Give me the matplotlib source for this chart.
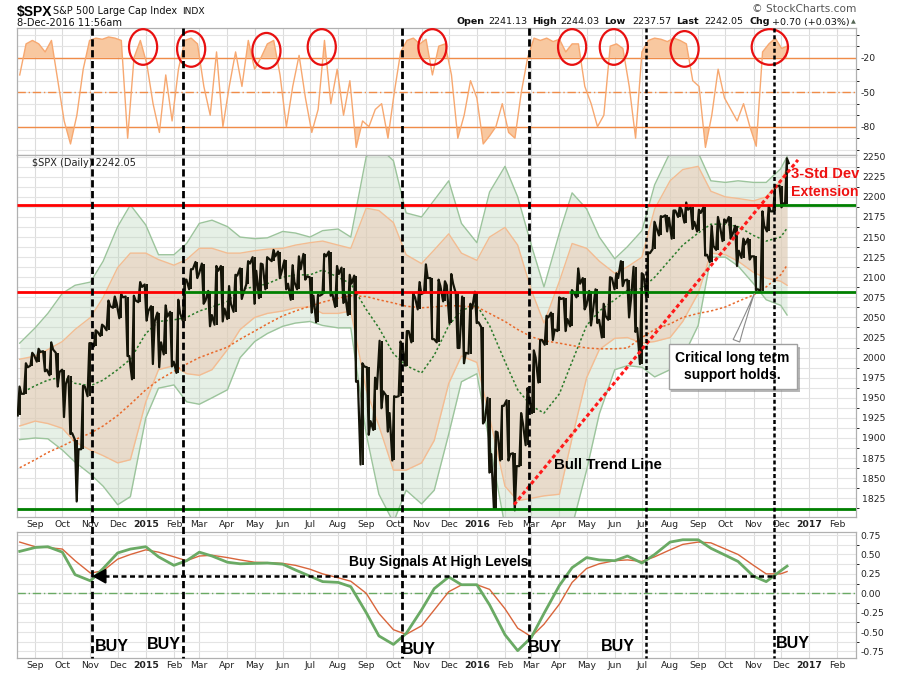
import matplotlib
matplotlib.use('Agg')
import matplotlib.pyplot as plt
import matplotlib.dates as mdates
import matplotlib.transforms as mtransforms
import matplotlib.patheffects as pe
from matplotlib.lines import Line2D
from matplotlib.patches import Ellipse
import numpy as np
import pandas as pd

# weekly S&P 500 bars (Friday dates, last bar is 8-Dec-2016)
week_dates = pd.date_range('2014-08-15', '2016-12-02', freq='W-FRI').append(pd.DatetimeIndex(['2016-12-08']))

close = [1955, 1988, 2003, 2007, 1985, 2010, 1982, 1967, 1906, 1886, 1964, 2018, 2032, 2039, 2064, 2068, 2075, 2002, 2071, 2088,
         2058, 2045, 2019, 2051, 1995, 2055, 2097, 2110, 2105, 2071, 2053, 2108, 2061, 2067, 2102, 2081, 2117, 2108, 2116, 2123,
         2126, 2107, 2092, 2094, 2110, 2101, 2077, 2077, 2126, 2079, 2104, 2078, 2092, 1971, 1989, 1921, 1961, 1958, 1931, 1951,
         2014, 2033, 2075, 2079, 2099, 2023, 2089, 2090, 2092, 2012, 2006, 2061, 2044,
         1922, 1880, 1907, 1940, 1880, 1865, 1918, 1948, 2000, 2022, 2050, 2035, 2073, 2048, 2081, 2092, 2065, 2057, 2047, 2052,
         2099, 2099, 2096, 2071, 2037, 2103, 2130, 2162, 2175, 2174, 2183, 2184, 2184, 2169, 2180, 2128, 2139, 2165, 2168, 2153,
         2133, 2141, 2126, 2085, 2164, 2182, 2213, 2192, 2242]
high = [1964, 1993, 2006, 2011, 2008, 2019, 2006, 1985, 1977, 1898, 1965, 2018, 2034, 2041, 2071, 2076, 2079, 2076, 2077, 2094,
        2091, 2064, 2056, 2065, 2057, 2072, 2097, 2110, 2119, 2117, 2083, 2114, 2114, 2089, 2103, 2111, 2120, 2125, 2117, 2125,
        2134, 2132, 2121, 2115, 2126, 2129, 2100, 2078, 2129, 2132, 2114, 2112, 2103, 2102, 1993, 1988, 1975, 2021, 1953, 1952,
        2020, 2033, 2080, 2094, 2116, 2099, 2097, 2095, 2104, 2080, 2076, 2067, 2082,
        2038, 1950, 1908, 1940, 1947, 1881, 1931, 1962, 2009, 2022, 2052, 2056, 2075, 2074, 2084, 2111, 2099, 2083, 2085, 2067,
        2100, 2105, 2120, 2097, 2113, 2105, 2131, 2169, 2176, 2177, 2183, 2188, 2193, 2187, 2184, 2187, 2164, 2175, 2172, 2175,
        2164, 2148, 2148, 2126, 2182, 2189, 2214, 2214, 2248]
low = [1928, 1955, 1990, 1995, 1983, 1978, 1964, 1926, 1905, 1821, 1886, 1952, 2014, 2027, 2034, 2062, 2049, 2002, 1973, 2069,
       2046, 1992, 1988, 2004, 1989, 1981, 2046, 2085, 2099, 2067, 2039, 2041, 2045, 2048, 2057, 2073, 2091, 2067, 2074, 2085,
       2120, 2099, 2085, 2072, 2085, 2097, 2056, 2044, 2079, 2077, 2063, 2068, 2053, 1970, 1867, 1904, 1910, 1937, 1908, 1872,
       1952, 1990, 2019, 2060, 2081, 2023, 2019, 2070, 2043, 2012, 1993, 2005, 2043,
       1918, 1857, 1812, 1872, 1872, 1810, 1865, 1891, 1931, 1969, 2016, 2022, 2033, 2033, 2039, 2075, 2060, 2040, 2043, 2025,
       2047, 2085, 2089, 2050, 2032, 1992, 2074, 2135, 2152, 2157, 2148, 2175, 2168, 2160, 2157, 2127, 2119, 2134, 2145, 2148,
       2114, 2124, 2122, 2084, 2083, 2157, 2182, 2187, 2191]

# Williams %R (top panel), same weekly dates
willr = [-35, -8, -5, -8, -15, -5, -40, -75, -95, -70, -30, -5, -3, -4, -2, -3, -5, -90, -20, -5,
         -25, -60, -85, -35, -75, -30, -5, -3, -8, -45, -70, -15, -80, -45, -15, -45, -5, -30, -20, -8,
         -5, -35, -80, -45, -18, -55, -85, -65, -5, -60, -30, -70, -40, -98, -75, -80, -65, -60, -90, -50,
         -15, -5, -3, -8, -4, -35, -10, -8, -35, -90, -70, -40,
         -55, -95, -88, -80, -60, -85, -90, -50, -20, -3, -5, -3, -6, -4, -15, -8, -8, -45, -60, -80,
         -70, -10, -8, -12, -45, -90, -15, -5, -3, -4, -6, -3, -5, -8, -40, -45, -98, -70, -30, -55,
         -65, -75, -60, -80, -97, -15, -8, -3, -12, -10]

# bands, moving averages and oscillator, read twice a month
band_dates = pd.date_range('2014-08-15', '2016-12-01', freq='SMS').append(pd.DatetimeIndex(['2016-12-08']))
upper3 = [2018, 2037, 2055, 2080, 2090, 2094, 2120, 2163, 2190, 2165, 2128, 2128, 2142, 2167, 2171, 2163, 2150, 2148, 2149, 2157,
          2155, 2150, 2158, 2160, 2150, 2250, 2262, 2245, 2180, 2175, 2196, 2220, 2167, 2143, 2206, 2238, 2200, 2140, 2088, 2155,
          2205, 2185, 2150, 2123, 2138, 2158, 2215, 2255, 2258, 2255, 2220, 2218, 2220, 2218, 2218, 2235, 2250]
upper2 = [1998, 2002, 2010, 2020, 2035, 2050, 2075, 2112, 2130, 2130, 2122, 2115, 2122, 2136, 2136, 2130, 2130, 2133, 2135, 2136,
          2140, 2143, 2145, 2140, 2136, 2186, 2183, 2168, 2128, 2117, 2134, 2154, 2130, 2121, 2150, 2162, 2140, 2084, 2043, 2095,
          2142, 2136, 2120, 2105, 2113, 2125, 2185, 2220, 2234, 2238, 2207, 2200, 2198, 2195, 2200, 2220, 2236]
lower2 = [1915, 1921, 1918, 1912, 1895, 1885, 1878, 1869, 1873, 1945, 1985, 1990, 1980, 1978, 1985, 2010, 2035, 2050, 2055, 2058,
          2062, 2063, 2055, 2055, 2058, 1960, 1915, 1860, 1860, 1869, 1897, 1968, 2002, 1994, 1926, 1840, 1822, 1825, 1828, 1830,
          1900, 1975, 2010, 2024, 2025, 2018, 2020, 2025, 2045, 2080, 2130, 2128, 2120, 2106, 2099, 2095, 2090]
lower3 = [1898, 1900, 1899, 1885, 1870, 1855, 1840, 1817, 1827, 1925, 1962, 1966, 1945, 1942, 1950, 1960, 2000, 2020, 2030, 2039,
          2043, 2045, 2040, 2037, 2037, 1905, 1830, 1795, 1835, 1818, 1835, 1905, 1970, 1980, 1894, 1790, 1780, 1780, 1780, 1780,
          1790, 1860, 1930, 1985, 1990, 1988, 1976, 1985, 2000, 2040, 2125, 2125, 2114, 2092, 2072, 2065, 2053]
ma50 = [1955, 1965, 1972, 1976, 1968, 1965, 1972, 1985, 1998, 2030, 2045, 2047, 2050, 2058, 2063, 2070, 2085, 2088, 2092, 2100,
        2103, 2103, 2109, 2100, 2092, 2060, 2037, 2005, 1990, 1981, 2003, 2040, 2059, 2065, 2040, 1995, 1960, 1940, 1931, 1955,
        1995, 2040, 2058, 2072, 2084, 2086, 2100, 2122, 2140, 2155, 2166, 2166, 2163, 2152, 2145, 2150, 2161]
ma200 = [1863, 1873, 1882, 1890, 1898, 1906, 1915, 1928, 1942, 1960, 1972, 1983, 1992, 2000, 2006, 2013, 2023, 2033, 2042, 2052,
         2058, 2064, 2069, 2074, 2077, 2076, 2072, 2068, 2064, 2062, 2063, 2065, 2064, 2063, 2055, 2045, 2035, 2026, 2021, 2018,
         2015, 2012, 2011, 2011, 2012, 2025, 2035, 2042, 2050, 2055, 2058, 2063, 2070, 2078, 2088, 2103, 2115]
osc_fast = [0.54, 0.59, 0.60, 0.53, 0.24, 0.16, 0.32, 0.52, 0.57, 0.60, 0.47, 0.36, 0.42, 0.53, 0.48, 0.40, 0.38, 0.385, 0.39, 0.375,
            0.30, 0.22, 0.15, 0.14, 0.085, -0.25, -0.55, -0.66, -0.52, -0.215, 0.06, 0.21, 0.11, 0.11, -0.15, -0.535, -0.74, -0.57, -0.26, 0.10,
            0.33, 0.46, 0.43, 0.42, 0.48, 0.39, 0.50, 0.66, 0.69, 0.69, 0.58, 0.49, 0.41, 0.22, 0.15, 0.29, 0.35]
osc_slow = [0.66, 0.60, 0.59, 0.57, 0.42, 0.26, 0.29, 0.44, 0.50, 0.56, 0.53, 0.47, 0.42, 0.48, 0.49, 0.46, 0.43, 0.40, 0.395, 0.385,
            0.36, 0.31, 0.25, 0.20, 0.155, 0.00, -0.26, -0.47, -0.53, -0.42, -0.215, 0.02, 0.107, 0.11, 0.05, -0.20, -0.45, -0.56, -0.40, -0.14,
            0.14, 0.32, 0.38, 0.42, 0.43, 0.41, 0.47, 0.56, 0.63, 0.66, 0.65, 0.57, 0.50, 0.36, 0.25, 0.25, 0.28]

# annotations
buy_dates = ['2014-11-03', '2015-02-11', '2015-10-11', '2016-02-27', '2016-07-06', '2016-11-24']
circle_dates = ['2014-12-29', '2015-02-20', '2015-05-14', '2015-07-14', '2015-11-13',
                '2016-04-15', '2016-05-31', '2016-08-17', '2016-11-19']
circle_vals = [-10.7, -12.4, -14, -10.7, -10.7, -10.7, -10.7, -12.4, -10.7]
resistance, support, bottom_line = 2190, 2082, 1812
trend_x = ['2016-02-11', '2016-12-20']
trend_y = [1817, 2246]

W, H = 900, 673


def rect(x0, y0, x1, y1):
    return [x0 / W, 1 - y1 / H, (x1 - x0) / W, (y1 - y0) / H]


def dn(s):
    return mdates.date2num(pd.Timestamp(s))


fig = plt.figure(figsize=(9, 6.73), dpi=100)
ax1 = fig.add_axes(rect(17, 28, 856, 155))
ax2 = fig.add_axes(rect(17, 155, 856, 517))
ax3 = fig.add_axes(rect(17, 532, 856, 658))

months = pd.date_range('2014-09-01', '2017-02-01', freq='MS')
mlabels = [str(m.year) if m.month == 1 else m.strftime('%b') for m in months]
xlo, xhi = dn('2014-08-12'), dn('2017-02-22')

for ax in (ax1, ax2, ax3):
    ax.set_xlim(xlo, xhi)
    ax.set_xticks(mdates.date2num(months))
    ax.set_xticklabels(mlabels)
    ax.yaxis.tick_right()
    ax.tick_params(axis='both', length=0, labelsize=6.7, colors='#222222')
    ax.grid(True, which='major', axis='x', color='#dcdcdc', lw=0.8, zorder=0)
    ax.grid(True, which='minor', axis='y', color='#e4e4e4', lw=0.8, zorder=0)
    ax.grid(True, which='major', axis='y', color='#e4e4e4', lw=0.8, zorder=0)
    ax.set_axisbelow(True)
    for sp in ax.spines.values():
        sp.set_color('#b0b0b0')
        sp.set_linewidth(0.9)
ax1.tick_params(axis='x', labelbottom=False)
ax2.tick_params(axis='x', pad=2.5)
ax2.tick_params(axis='y', pad=4.5)
ax3.tick_params(axis='x', pad=1.8)
for ax in (ax2, ax3):
    for lab, m in zip(ax.get_xticklabels(), months):
        if m.month == 1:
            lab.set_fontweight('bold')

# ---- top panel: Williams %R
ax1.set_ylim(-104.6, 5.8)
ax1.set_yticks([-20, -50, -80])
ax1.set_yticklabels(['-20', '-50', '-80'])
ax1.set_yticks(np.arange(-100, 1, 10), minor=True)
wr = np.array(willr)
ax1.fill_between(week_dates, wr, -20, where=wr > -20, interpolate=True, color='#f8c8a0', lw=0, zorder=2)
ax1.fill_between(week_dates, wr, -80, where=wr < -80, interpolate=True, color='#f8c8a0', lw=0, zorder=2)
ax1.plot(week_dates, wr, color='#f7a870', lw=1, zorder=3)
ax1.axhline(-20, color='#f08c48', lw=1, zorder=2)
ax1.axhline(-80, color='#f08c48', lw=1, zorder=2)
ax1.axhline(-50, color='#f08c48', lw=1, ls=(0, (6, 2, 1, 2)), zorder=2)
for d, v in zip(circle_dates, circle_vals):
    w = 40 if d == '2016-11-19' else 31
    ax1.add_patch(Ellipse((dn(d), v), w, 31, fill=False, ec='#e81010', lw=1.6, zorder=5))

# ---- main panel
ax2.set_ylim(1801.7, 2252.1)
ax2.set_yticks(np.arange(1825, 2251, 25))
ax2.set_yticks(np.arange(1812.5, 2251, 25), minor=True)
ax2.fill_between(band_dates, lower3, upper3, color='#b8d4b8', alpha=0.35, lw=0, zorder=1)
ax2.plot(band_dates, upper3, color='#9cc49c', lw=1, zorder=1.5)
ax2.plot(band_dates, lower3, color='#9cc49c', lw=1, zorder=1.5)
ax2.fill_between(band_dates, lower2, upper2, color='#eacbb5', alpha=0.55, lw=0, zorder=1.2)
ax2.plot(band_dates, upper2, color='#f3bc92', lw=1, zorder=1.6)
ax2.plot(band_dates, lower2, color='#f3bc92', lw=1, zorder=1.6)
ax2.plot(band_dates, ma50, color='#2a7a2a', lw=1.1, ls=(0, (1.5, 1.5)), zorder=2)
ax2.plot(band_dates, ma200, color='#e86a2c', lw=1.1, ls=(0, (1.5, 1.5)), zorder=2)

# price: weekly range drawn as a zigzag low->high (or high->low) inside each week
wk = mdates.date2num(week_dates)
zx, zy = [], []
prev = close[0]
for t, h, l, c in zip(wk, high, low, close):
    first, second = (l, h) if c >= prev else (h, l)
    zx += [t - 2.2, t - 0.2, t + 1.8]
    zy += [first, second, c]
    prev = c
ax2.plot(zx, zy, color='#141408', lw=1.6, zorder=3)
ax2.vlines(wk, low, high, color='#141408', lw=1.4, zorder=3)

ax2.hlines(resistance, xlo, dn('2016-11-23'), color='#ff0000', lw=2, zorder=4)
ax2.hlines(resistance, dn('2016-11-23'), xhi, color='#008000', lw=2, zorder=4)
ax2.hlines(support, xlo, dn('2015-02-11'), color='#ff0000', lw=2, zorder=4)
ax2.hlines(support, dn('2015-02-11'), dn('2015-08-18'), color='#008000', lw=2, zorder=4)
ax2.hlines(support, dn('2015-08-18'), dn('2016-04-12'), color='#ff0000', lw=2, zorder=4)
ax2.hlines(support, dn('2016-04-12'), xhi, color='#008000', lw=2, zorder=4)
ax2.hlines(bottom_line, xlo, xhi, color='#008000', lw=2, zorder=4)
ax2.plot([dn(t) for t in trend_x], trend_y, color='#ff1a1a', lw=2.2, ls=(0, (1.3, 0.9)), zorder=5)

ax2.text(dn('2014-08-29'), 2242.5, '$SPX (Daily) 2242.05', fontsize=7, color='#222222', va='center', ha='left')
ax2.text(dn('2016-05-24'), 1866, 'Bull Trend Line', fontsize=10.8, fontweight='bold',
         family='Liberation Sans', ha='center', va='center', zorder=6)
ax2.text(dn('2016-12-12'), 2228.5, '3-Std Dev', fontsize=10.6, fontweight='bold', color='#ee1111',
         family='Liberation Sans', ha='left', va='center', clip_on=False, zorder=6)
ax2.text(dn('2016-12-12'), 2206, 'Extension', fontsize=10.2, fontweight='bold', color='#ee1111',
         family='Liberation Sans', ha='left', va='center', clip_on=False, zorder=6)
ann = ax2.annotate('Critical long term\nsupport holds.', xy=(dn('2016-11-03'), 2083),
                   xytext=(dn('2016-10-09'), 1989), ha='center', va='center', fontsize=10,
                   fontweight='bold', family='Liberation Sans', linespacing=1.3, zorder=6,
                   bbox=dict(boxstyle='square,pad=0.5', fc='white', ec='#a0a0a0', lw=1),
                   arrowprops=dict(arrowstyle='wedge,tail_width=0.5,shrink_factor=0.4', fc='white',
                                   ec='#8a8a8a', lw=0.8, relpos=(0.5, 1.0)))
ann.get_bbox_patch().set_path_effects([pe.SimplePatchShadow(offset=(2, -2), shadow_rgbFace='#888888', alpha=0.6),
                                       pe.Normal()])

# ---- bottom panel
ax3.set_ylim(-0.835, 0.79)
ax3.set_yticks(np.arange(-0.75, 0.76, 0.25))
ax3.set_yticklabels(['%.2f' % v for v in np.arange(-0.75, 0.76, 0.25)])
ax3.set_yticks(np.arange(-0.625, 0.76, 0.25), minor=True)
ax3.axhline(0, color='#6aaa64', lw=1, ls=(0, (6, 2, 1, 2)), zorder=2)
ax3.plot(band_dates, osc_slow, color='#d9653b', lw=1, zorder=3)
ax3.plot(band_dates, osc_fast, color='#6aaa64', lw=2, zorder=3)
ax3.plot([dn('2014-11-16'), dn(buy_dates[5])], [0.22, 0.22], color='black', lw=1.8, ls=(0, (2, 1.4)), zorder=4)
ax3.annotate('', xy=(dn(buy_dates[0]), 0.22), xytext=(dn('2014-11-18'), 0.22),
             arrowprops=dict(arrowstyle='-|>,head_length=0.8,head_width=0.45', color='black', lw=1.5,
                             shrinkA=0, shrinkB=0), zorder=5)
ax3.text(dn('2015-11-20'), 0.40, 'Buy Signals At High Levels', fontsize=10, fontweight='bold',
         family='Liberation Sans', ha='center', va='center', zorder=6)
buy_text_x = ['2014-11-25', '2015-01-21', '2015-10-29', '2016-03-16', '2016-06-05', '2016-12-14']
buy_text_y = [-0.69, -0.66, -0.73, -0.70, -0.69, -0.65]
for d, v in zip(buy_text_x, buy_text_y):
    ax3.text(dn(d), v, 'BUY', fontsize=11.5, fontweight='bold', family='Liberation Sans',
             ha='center', va='center', zorder=6)

# ---- signal lines through all panels
blend = mtransforms.blended_transform_factory(ax2.transData, fig.transFigure)
for i, d in enumerate(buy_dates):
    if i < 4:
        style = dict(lw=2, ls=(0, (2.6, 1.3)))
    else:
        style = dict(lw=1.8, ls=(0, (1.6, 1.1)))
    fig.add_artist(Line2D([dn(d), dn(d)], [1 - 28 / H, 1 - 658 / H], transform=blend, color='black', **style))

# ---- header
fig.text(17 / W, 1 - 12 / H, '$SPX', fontsize=10, fontweight='bold', family='Liberation Sans', va='center')
fig.text(53 / W, 1 - 11 / H, 'S&P 500 Large Cap Index', fontsize=7.0, family='DejaVu Sans', va='center', color='#111111')
fig.text(182 / W, 1 - 11 / H, 'INDX', fontsize=6.6, family='DejaVu Sans', va='center', color='#111111')
fig.text(17 / W, 1 - 23 / H, '8-Dec-2016 11:56am', fontsize=7.1, family='DejaVu Sans', va='center', color='#111111')
fig.text(856 / W, 1 - 9 / H, '\u00a9 StockCharts.com', fontsize=7.6, family='DejaVu Sans', va='center', ha='right',
         color='#555555')
header = [('Open', 456, True), ('2241.13', 488, False), ('High', 532, True), ('2244.03', 560, False),
          ('Low', 604, True), ('2237.57', 632, False), ('Last', 676, True), ('2242.05', 704, False),
          ('Chg', 749, True), ('+0.70 (+0.03%)', 772, False)]
for txt, x, bold in header:
    fig.text(x / W, 1 - 22 / H, txt, fontsize=6.8, family='DejaVu Sans', va='center',
             fontweight='bold' if bold else 'normal', color='#111111')
fig.text(851 / W, 1 - 22 / H, '\u25b2', fontsize=4.5, family='DejaVu Sans', va='center', color='#556655')

fig.savefig('out.png', dpi=100)
